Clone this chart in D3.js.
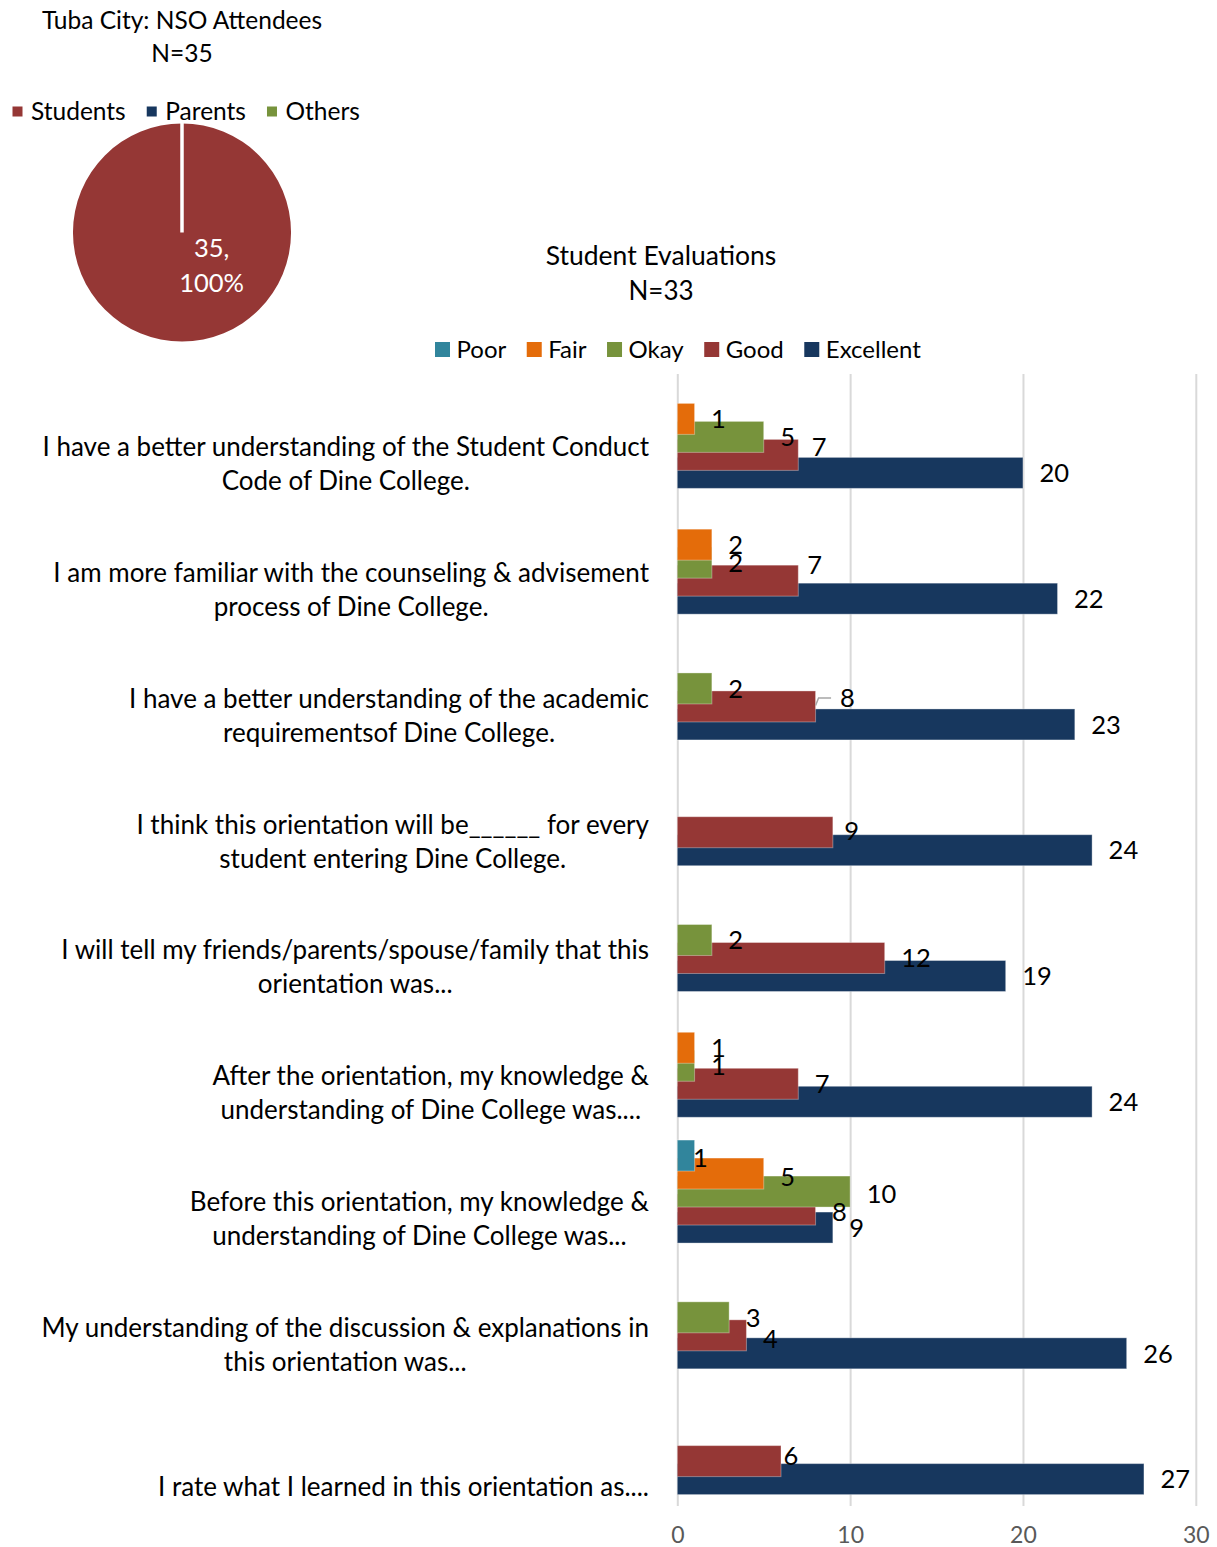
<!DOCTYPE html>
<html>
<head>
<meta charset="utf-8">
<script src="https://cdn.jsdelivr.net/npm/d3@7"></script>
<style>
  body { margin: 0; background: #fff; }
  svg { display: block; }
  text { font-family: Lato, "Open Sans", sans-serif; fill: #000; }
</style>
</head>
<body>
<svg id="chart" width="1217" height="1547"></svg>
<script>
// ---- Attendee breakdown (pie) ----
const attendeeGroups = ["Students", "Parents", "Others"];
const attendeeCounts = [35, 0, 0];

// ---- Student evaluation statements (wrapped label lines) ----
const categories = [
  ["I have a better understanding of the Student Conduct", "Code of Dine College."],
  ["I am more familiar with the counseling & advisement", "process of Dine College."],
  ["I have a better understanding of the academic", "requirementsof Dine College."],
  ["I think this orientation will be______ for every", "student entering Dine College."],
  ["I will tell my friends/parents/spouse/family that this", "orientation was..."],
  ["After the orientation, my knowledge &", "understanding of Dine College was...."],
  ["Before this orientation, my knowledge &", "understanding of Dine College was..."],
  ["My understanding of the discussion & explanations in", "this orientation was..."],
  ["", "I rate what I learned in this orientation as...."]
];

// ---- Response counts per rating (null = no responses) ----
const ratingSeries = ["Poor", "Fair", "Okay", "Good", "Excellent"];
const poorCounts      = [null, null, null, null, null, null, 1, null, null];
const fairCounts      = [1, 2, null, null, null, 1, 5, null, null];
const okayCounts      = [5, 2, 2, null, 2, 1, 10, 3, null];
const goodCounts      = [7, 7, 8, 9, 12, 7, 8, 4, 6];
const excellentCounts = [20, 22, 23, 24, 19, 24, 9, 26, 27];
const xTickValues = [0, 10, 20, 30];

const ratingColors = ["#31859C", "#E46C0A", "#77933C", "#953735", "#17375E"];
const attendeeColors = ["#953735", "#17375E", "#77933C"];

const countsBySeries = [poorCounts, fairCounts, okayCounts, goodCounts, excellentCounts];

const svg = d3.select("#chart");
svg.append("rect").attr("width", 1217).attr("height", 1547).attr("fill", "#fff");

// ================= Pie: NSO attendees =================
const pieG = svg.append("g");
pieG.append("text").attr("x", 182).attr("y", 20).attr("dy", "0.36em")
  .attr("text-anchor", "middle").style("font-size", "24.5px").text("Tuba City: NSO Attendees");
pieG.append("text").attr("x", 182).attr("y", 53).attr("dy", "0.36em")
  .attr("text-anchor", "middle").style("font-size", "24.5px").text("N=35");

// legend row
let lx = 12.5;
attendeeGroups.forEach((g, i) => {
  pieG.append("rect").attr("x", lx).attr("y", 106.5).attr("width", 10).attr("height", 10)
    .attr("fill", attendeeColors[i]);
  const t = pieG.append("text").attr("x", lx + 18.5).attr("y", 111.5).attr("dy", "0.36em")
    .style("font-size", "24.5px").text(g);
  lx += 18.5 + t.node().getComputedTextLength() + 21;
});

const pieCx = 182, pieCy = 232.5, pieR = 109;
const pieGen = d3.pie().sort(null).value(d => d);
const arcs = pieGen(attendeeCounts);
const arcGen = d3.arc().innerRadius(0).outerRadius(pieR);
const slices = pieG.append("g").attr("transform", `translate(${pieCx},${pieCy})`);
slices.selectAll("path").data(arcs.filter(a => a.value > 0)).join("path")
  .attr("d", arcGen).attr("fill", (d) => attendeeColors[d.index]);
// slice boundary
arcs.filter(a => a.value > 0).forEach(a => {
  const [ex, ey] = d3.pointRadial(a.startAngle, pieR + 1);
  slices.append("line").attr("x1", 0).attr("y1", 0).attr("x2", ex).attr("y2", ey)
    .attr("stroke", "#fff").attr("stroke-width", 3.5);
});
const total = d3.sum(attendeeCounts);
arcs.filter(a => a.value > 0).forEach(a => {
  const [px, py] = d3.pointRadial(Math.PI * 0.75, pieR * 0.41);
  const lbl = slices.append("text").attr("text-anchor", "middle")
    .style("font-size", "25.5px").style("fill", "#fff");
  lbl.append("tspan").attr("x", px - 2).attr("y", py - 16).attr("dy", "0.36em").text(`${a.value},`);
  lbl.append("tspan").attr("x", px - 2).attr("y", py + 19).attr("dy", "0.36em")
    .text(`${Math.round(a.value / total * 100)}%`);
});

// ================= Bars: student evaluations =================
const barG = svg.append("g");
barG.append("text").attr("x", 661).attr("y", 255).attr("dy", "0.36em")
  .attr("text-anchor", "middle").style("font-size", "26.5px").text("Student Evaluations");
barG.append("text").attr("x", 661).attr("y", 291).attr("dy", "0.36em")
  .attr("text-anchor", "middle").style("font-size", "26px").text("N=33");

// legend row
let rx = 435;
ratingSeries.forEach((s, i) => {
  barG.append("rect").attr("x", rx).attr("y", 342).attr("width", 15).attr("height", 15)
    .attr("fill", ratingColors[i]);
  const t = barG.append("text").attr("x", rx + 21.5).attr("y", 349.5).attr("dy", "0.36em")
    .style("font-size", "24px").text(s);
  rx += 21.5 + t.node().getComputedTextLength() + 20.5;
});

const plotTop = 374, plotBottom = 1506;
const x = d3.scaleLinear().domain([0, 30]).range([677.3, 1195.8]);
const y = d3.scaleBand().domain(d3.range(categories.length)).range([plotTop, plotBottom]);
const seriesPos = d3.scalePoint().domain(ratingSeries).range([-36, 36]);
const barH = 31;
const center = (i, s) => y(i) + y.bandwidth() / 2 + seriesPos(s);

// gridlines + tick labels
const axis = d3.axisBottom(x).tickValues(xTickValues)
  .tickSizeInner(-(plotBottom - plotTop)).tickSizeOuter(0).tickPadding(21);
const axG = barG.append("g").attr("transform", `translate(0,${plotBottom})`).call(axis);
axG.select(".domain").remove();
axG.selectAll(".tick line").attr("stroke", "#d9d9d9").attr("stroke-width", 2);
axG.selectAll(".tick text").style("font-family", "Lato, 'Open Sans', sans-serif")
  .style("font-size", "23px").style("fill", "#595959");

// bars: lower series first so the upper ones overlap them
const barLayer = barG.append("g");
for (let si = ratingSeries.length - 1; si >= 0; si--) {
  const s = ratingSeries[si];
  const rows = countsBySeries[si].map((v, i) => ({ i, v })).filter(d => d.v != null);
  barLayer.append("g").selectAll("rect").data(rows).join("rect")
    .attr("x", x(0))
    .attr("y", d => center(d.i, s) - barH / 2)
    .attr("width", d => x(d.v) - x(0))
    .attr("height", barH)
    .attr("fill", ratingColors[si])
    .attr("stroke", "rgba(255,255,255,0.35)")
    .attr("stroke-width", 1);
}

// value labels; a few were dragged off the bar end to reduce overlap
const labelShift = {
  "0-Good": [-3, -8],
  "1-Good": [-7.5, -16],
  "2-Good": [8, -8.5],
  "3-Good": [-5, -1],
  "6-Poor": [-18, 2],
  "6-Fair": [0, 3.5],
  "6-Okay": [0, 2],
  "6-Good": [0, 2.5],
  "7-Good": [0, 3],
  "8-Good": [-14, -5]
};
const labelLayer = barG.append("g");
ratingSeries.forEach((s, si) => {
  countsBySeries[si].forEach((v, i) => {
    if (v == null) return;
    const [dx, dy] = labelShift[`${i}-${s}`] || [0, 0];
    const lx0 = x(v) + 16.5 + dx, ly0 = center(i, s) + dy;
    labelLayer.append("text").attr("x", lx0).attr("y", ly0).attr("dy", "0.36em")
      .style("font-size", "25.5px").text(v);
    if (dx > 4) {
      // leader line back to the bar end
      const bx = x(v), by = center(i, s) - 1;
      labelLayer.append("path")
        .attr("d", `M${bx},${by}L${bx + 3},${ly0}L${lx0 - 9},${ly0}`)
        .attr("fill", "none").attr("stroke", "#a6a6a6").attr("stroke-width", 1.5);
    }
  });
});

// category labels: lines centred within a right-aligned block
const catLayer = barG.append("g");
categories.forEach((lines, i) => {
  const cy = y(i) + y.bandwidth() / 2;
  const texts = lines.map((ln, k) => catLayer.append("text")
    .attr("y", cy + 10 + k * 34).attr("dy", "0.36em")
    .attr("text-anchor", "middle").style("font-size", "26px").text(ln));
  const w = d3.max(texts, t => t.node().getComputedTextLength());
  texts.forEach(t => t.attr("x", 649 - w / 2));
});
</script>
</body>
</html>
